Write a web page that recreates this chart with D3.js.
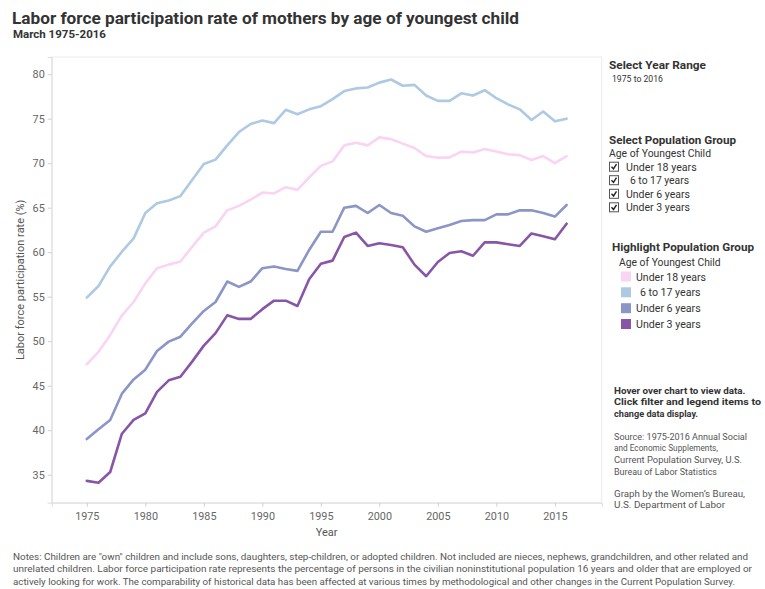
<!DOCTYPE html>
<html>
<head>
<meta charset="utf-8">
<script src="https://cdn.jsdelivr.net/npm/d3@7"></script>
<style>
  html, body { margin: 0; padding: 0; background: #fff; }
  svg { display: block; font-family: Roboto, "Noto Sans", "DejaVu Sans", sans-serif; }
</style>
</head>
<body>
<svg id="chart" width="765" height="589"></svg>
<script>
// ---------- data ----------
const years = [1975,1976,1977,1978,1979,1980,1981,1982,1983,1984,1985,1986,1987,1988,1989,1990,1991,1992,1993,1994,1995,1996,1997,1998,1999,2000,2001,2002,2003,2004,2005,2006,2007,2008,2009,2010,2011,2012,2013,2014,2015,2016];
const under18 = [47.4,48.8,50.7,52.9,54.4,56.5,58.2,58.6,58.95,60.6,62.2,62.9,64.7,65.2,65.9,66.7,66.6,67.3,67.0,68.4,69.7,70.2,72.0,72.3,72.0,72.9,72.7,72.2,71.7,70.8,70.6,70.65,71.3,71.2,71.6,71.3,71.0,70.9,70.35,70.8,70.0,70.8];
const age6to17 = [54.9,56.2,58.4,60.05,61.55,64.4,65.5,65.8,66.3,68.1,69.9,70.4,72.0,73.5,74.4,74.8,74.5,76.0,75.5,76.05,76.4,77.2,78.1,78.4,78.5,79.05,79.4,78.7,78.8,77.6,77.0,77.0,77.85,77.6,78.2,77.3,76.6,76.05,74.85,75.8,74.7,75.0];
const under6 = [39.0,40.1,41.15,44.1,45.7,46.8,48.9,49.95,50.5,52.0,53.4,54.4,56.7,56.1,56.7,58.2,58.4,58.1,57.9,60.25,62.3,62.3,65.0,65.2,64.4,65.3,64.4,64.1,62.9,62.3,62.7,63.05,63.5,63.6,63.6,64.25,64.25,64.7,64.7,64.4,64.0,65.3];
const under3 = [34.3,34.1,35.3,39.6,41.15,41.9,44.3,45.6,46.0,47.7,49.5,50.9,52.9,52.5,52.5,53.6,54.55,54.55,53.95,56.95,58.7,59.05,61.7,62.2,60.7,61.0,60.8,60.55,58.6,57.3,58.9,59.9,60.1,59.6,61.1,61.1,60.9,60.7,62.1,61.8,61.45,63.2];

const seriesNames = ["Under 18 years", "6 to 17 years", "Under 6 years", "Under 3 years"];
const seriesValues = [under18, age6to17, under6, under3];
const seriesColors = ["#f9d4f3", "#aecae2", "#8c96c6", "#8856a7"];

const xTicks = [1975,1980,1985,1990,1995,2000,2005,2010,2015];
const yTicks = [35,40,45,50,55,60,65,70,75,80];

const titleText = "Labor force participation rate of mothers by age of youngest child";
const subtitleText = "March 1975-2016";
const notesLines = [
  'Notes: Children are "own" children and include sons, daughters, step-children, or adopted children. Not included are nieces, nephews, grandchildren, and other related and',
  'unrelated children. Labor force participation rate represents the percentage of persons in the civilian noninstitutional population 16 years and older that are employed or',
  'actively looking for work. The comparability of historical data has been affected at various times by methodological and other changes in the Current Population Survey.'
];

// ---------- layout ----------
const svg = d3.select("#chart");
const plot = {left: 51.7, right: 601.7, top: 57, bottom: 502.7};

const x = d3.scaleLinear().domain([1972, 2019]).range([plot.left, plot.right]);
const y = d3.scaleLinear().domain([31.85, 81.93]).range([plot.bottom, plot.top]);

// text helper: shrink font until the natural width fits the target width
function txt(g, s, xx, yy, opts) {
  let size = opts.size || 11;
  const t = g.append("text").attr("x", xx).attr("y", yy).text(s)
    .attr("font-size", size)
    .attr("font-weight", opts.bold ? "bold" : "normal")
    .attr("fill", opts.color || "#333");
  if (opts.anchor) t.attr("text-anchor", opts.anchor);
  if (opts.width) {
    const w = t.node().getComputedTextLength();
    if (w > opts.width) size = size * opts.width / w;
    if (opts.maxSize) size = Math.min(size, opts.maxSize);
    t.attr("font-size", size);
    const w2 = t.node().getComputedTextLength();
    if (w2 < opts.width && w2 > opts.width * 0.9) {
      t.attr("textLength", opts.width).attr("lengthAdjust", "spacingAndGlyphs");
    }
  }
  return t;
}

// title
txt(svg, titleText, 12, 23.5, {size: 16, bold: true, color: "#333", width: 507});
txt(svg, subtitleText, 13, 38, {size: 12, bold: true, color: "#333", width: 107, maxSize: 11.5});

// plot frame
svg.append("rect").attr("x", plot.left).attr("y", plot.top)
  .attr("width", plot.right - plot.left).attr("height", plot.bottom - plot.top)
  .attr("fill", "none").attr("stroke", "#ececec").attr("stroke-width", 1);

// axes
const gx = svg.append("g").attr("transform", `translate(0,${plot.bottom})`)
  .call(d3.axisBottom(x).tickValues(xTicks).tickFormat(d3.format("d")).tickSize(4).tickPadding(6));
gx.select(".domain").attr("stroke", "#dcdcdc");
gx.selectAll(".tick line").attr("stroke", "#d0d0d0");
gx.selectAll(".tick text").attr("fill", "#666").attr("font-size", 10.8).attr("font-family", "Roboto");

const gy = svg.append("g").attr("transform", `translate(${plot.left},0)`)
  .call(d3.axisLeft(y).tickValues(yTicks).tickSize(4).tickPadding(3));
gy.select(".domain").attr("stroke", "#dcdcdc");
gy.selectAll(".tick line").attr("stroke", "#d0d0d0");
gy.selectAll(".tick text").attr("fill", "#666").attr("font-size", 10.8).attr("font-family", "Roboto");

txt(svg, "Year", (plot.left + plot.right) / 2, 536, {size: 11, color: "#555", anchor: "middle"});
svg.append("text")
  .attr("transform", `translate(24,${(plot.top + plot.bottom) / 2}) rotate(-90)`)
  .attr("text-anchor", "middle").attr("font-size", 11).attr("fill", "#555")
  .text("Labor force participation rate (%)");

// lines
const line = d3.line().x((d, i) => x(years[i])).y(d => y(d));
const gl = svg.append("g");
seriesValues.forEach((vals, k) => {
  gl.append("path").datum(vals).attr("d", line)
    .attr("fill", "none").attr("stroke", seriesColors[k])
    .attr("stroke-width", 2.6).attr("stroke-linejoin", "round").attr("stroke-linecap", "round");
});

// right panel
const rp = svg.append("g");
txt(rp, "Select Year Range", 609, 69, {bold: true, width: 97});
txt(rp, "1975 to 2016", 612, 81.5, {width: 51, size: 10.5});

txt(rp, "Select Population Group", 609, 144, {bold: true, width: 127});
txt(rp, "Age of Youngest Child", 609, 156.5, {width: 102, maxSize: 10.6});
const cbCenters = [166.7, 180.2, 193.8, 207.3];
const cbText = [[626, 70.7], [630, 59], [626, 64], [626, 64]];
seriesNames.forEach((nm, i) => {
  const cy = cbCenters[i];
  rp.append("rect").attr("x", 609.5).attr("y", cy - 4.5).attr("width", 9).attr("height", 9)
    .attr("fill", "#fff").attr("stroke", "#555").attr("stroke-width", 1);
  rp.append("path").attr("d", `M${611.5},${cy} L${613.5},${cy + 2.2} L${616.5},${cy - 2.5}`)
    .attr("fill", "none").attr("stroke", "#222").attr("stroke-width", 1.4);
  txt(rp, nm, cbText[i][0], cy + 4, {width: cbText[i][1], maxSize: 11.2});
});

txt(rp, "Highlight Population Group", 612, 251, {bold: true, width: 142});
txt(rp, "Age of Youngest Child", 619, 266, {width: 101.7});
const lgCenters = [276.5, 292.3, 308.2, 324];
const lgText = [[636, 70], [640, 60.5], [636, 64.7], [636, 64.7]];
seriesNames.forEach((nm, i) => {
  const cy = lgCenters[i];
  rp.append("rect").attr("x", 621).attr("y", cy - 5).attr("width", 10).attr("height", 10)
    .attr("fill", seriesColors[i]);
  txt(rp, nm, lgText[i][0], cy + 4, {width: lgText[i][1]});
});

const hover = [["Hover over chart to view data.", 147], ["Click filter and legend items to", 147], ["change data display.", 84]];
hover.forEach((h, i) => txt(rp, h[0], 614, 393.5 + i * 11.5, {bold: true, size: 10.5, width: h[1], maxSize: 9.8}));

const source = [["Source: 1975-2016 Annual Social", 133], ["and Economic Supplements,", 104], ["Current Population Survey, U.S.", 128], ["Bureau of Labor Statistics", 103]];
source.forEach((h, i) => txt(rp, h[0], 614, 439.5 + i * 11.7, {size: 10.5, color: "#555", width: h[1], maxSize: 9.9}));
const graphBy = [["Graph by the Women\u2019s Bureau,", 131], ["U.S. Department of Labor", 111]];
graphBy.forEach((h, i) => txt(rp, h[0], 614, 496.5 + i * 11.7, {size: 10.5, color: "#555", width: h[1], maxSize: 9.9}));

// notes
const notesW = [735, 739, 722];
notesLines.forEach((s, i) => txt(svg, s, 13, 559.5 + i * 12.5, {size: 10.5, color: "#555", width: notesW[i], maxSize: 10.6}));
</script>
</body>
</html>
